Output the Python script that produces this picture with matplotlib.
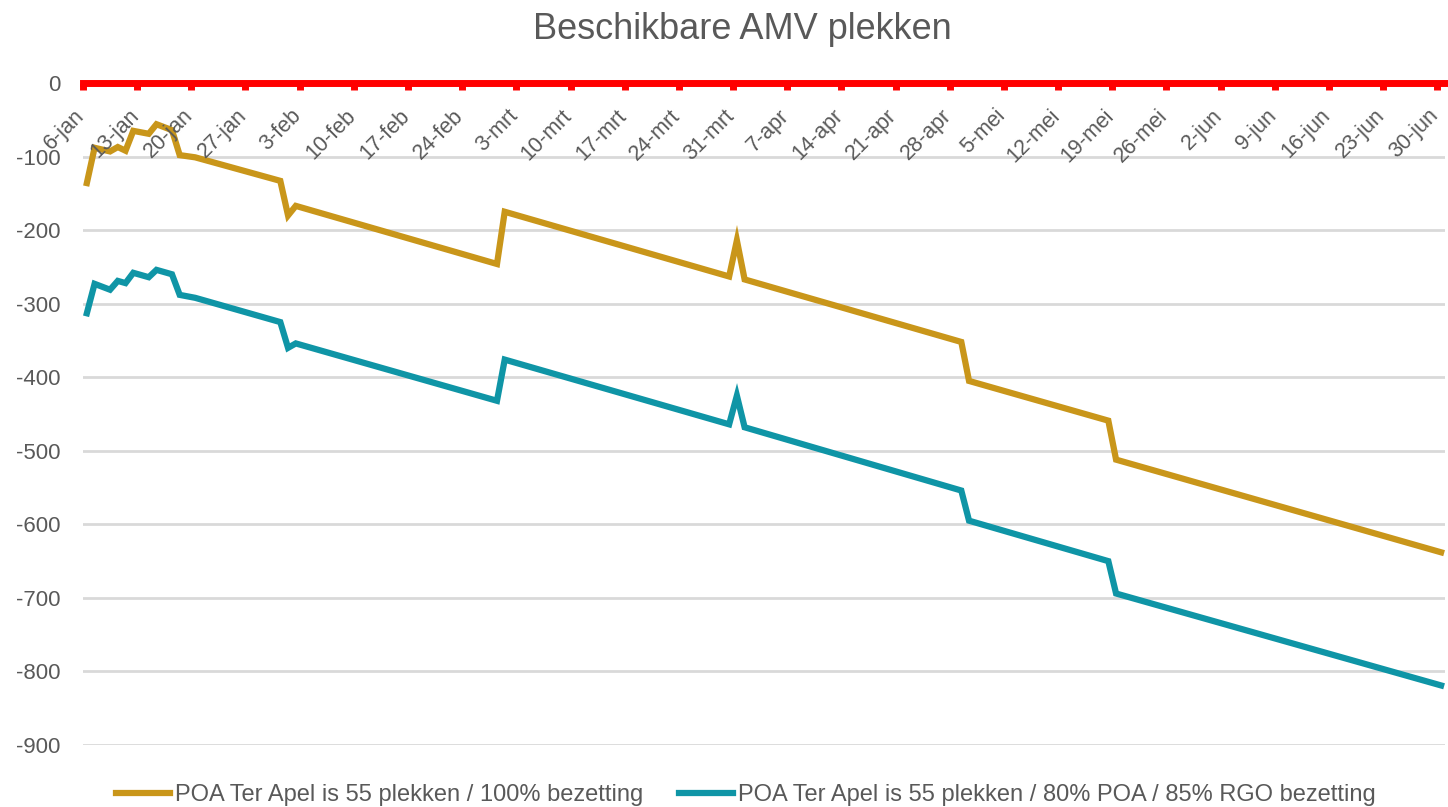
import matplotlib.pyplot as plt
import numpy as np
import pandas as pd

plt.rcParams['font.family'] = ['Liberation Sans', 'DejaVu Sans']

# breekpunten van beide reeksen (lijnen lopen recht tussen deze datums)
datums = ["2025-01-06", "2025-01-07", "2025-01-09", "2025-01-10", "2025-01-11",
          "2025-01-12", "2025-01-14", "2025-01-15", "2025-01-17", "2025-01-18",
          "2025-01-20", "2025-01-31", "2025-02-01", "2025-02-02", "2025-02-28",
          "2025-03-01", "2025-03-30", "2025-03-31", "2025-04-01", "2025-04-29",
          "2025-04-30", "2025-05-18", "2025-05-19", "2025-06-30"]
poa_100 = [-136, -88, -93, -87, -92, -65, -69, -56, -64, -98,
           -101, -133, -180, -167, -246, -175, -263, -214, -267, -352,
           -405, -459, -512, -638]
poa_80_85 = [-313, -273, -281, -269, -272, -258, -264, -254, -260, -288,
             -292, -325, -360, -354, -432, -376, -464, -425, -468, -554,
             -595, -650, -694, -819]

tick_labels = ["6-jan", "13-jan", "20-jan", "27-jan", "3-feb", "10-feb", "17-feb",
               "24-feb", "3-mrt", "10-mrt", "17-mrt", "24-mrt", "31-mrt", "7-apr",
               "14-apr", "21-apr", "28-apr", "5-mei", "12-mei", "19-mei", "26-mei",
               "2-jun", "9-jun", "16-jun", "23-jun", "30-jun"]
y_ticks = np.arange(-900, 1, 100)

start = pd.Timestamp("2025-01-06")
x = (pd.to_datetime(datums) - start).days.values + 0.5  # punt midden in de dag
tick_pos = np.arange(len(tick_labels)) * 7

grijs = '#595959'
goud = '#C9961A'
blauw = '#0F95A6'

fig = plt.figure(figsize=(14.48, 8.07), dpi=100)
ax = fig.add_axes([0.0573, 0.0768, 0.9406, 0.8203])

ax.plot(x, poa_100, color=goud, lw=4.5, solid_joinstyle='miter',
        label="POA Ter Apel is 55 plekken / 100% bezetting")
ax.plot(x, poa_80_85, color=blauw, lw=4.5, solid_joinstyle='miter',
        label="POA Ter Apel is 55 plekken / 80% POA / 85% RGO bezetting")

ax.set_xlim(0, 176)
ax.set_ylim(-900, 0)
ax.set_yticks(y_ticks)
ax.set_yticklabels([str(v) for v in y_ticks])
ax.yaxis.grid(True, color='#D9D9D9', lw=2)
ax.set_axisbelow(True)

for s in ['left', 'right', 'bottom']:
    ax.spines[s].set_visible(False)
ax.spines['top'].set_color('red')
ax.spines['top'].set_linewidth(5)

ax.xaxis.set_ticks_position('top')
ax.set_xticks(tick_pos)
ax.tick_params(axis='x', direction='in', length=5, width=5, color='red',
               labeltop=False, labelbottom=False)
ax.tick_params(axis='y', length=0, pad=16, labelsize=16, labelcolor=grijs)

# datumlabels onder de rode nullijn, schuin
for p, lab in zip(tick_pos, tick_labels):
    ax.annotate(lab, xy=(p, 0), xycoords='data', xytext=(-6.5, -16),
                textcoords='offset points', rotation=45, ha='right', va='top',
                rotation_mode='anchor', fontsize=15.5, color=grijs)

fig.text(0.513, 0.963, "Beschikbare AMV plekken", ha='center', va='center',
         fontsize=26, color=grijs)

fig.legend(loc='center', bbox_to_anchor=(0.515, 0.015), ncol=2, frameon=False,
           fontsize=17, labelcolor=grijs, handlelength=2.3, handletextpad=0.2,
           columnspacing=1.5)

fig.savefig("out.png", dpi=100)
